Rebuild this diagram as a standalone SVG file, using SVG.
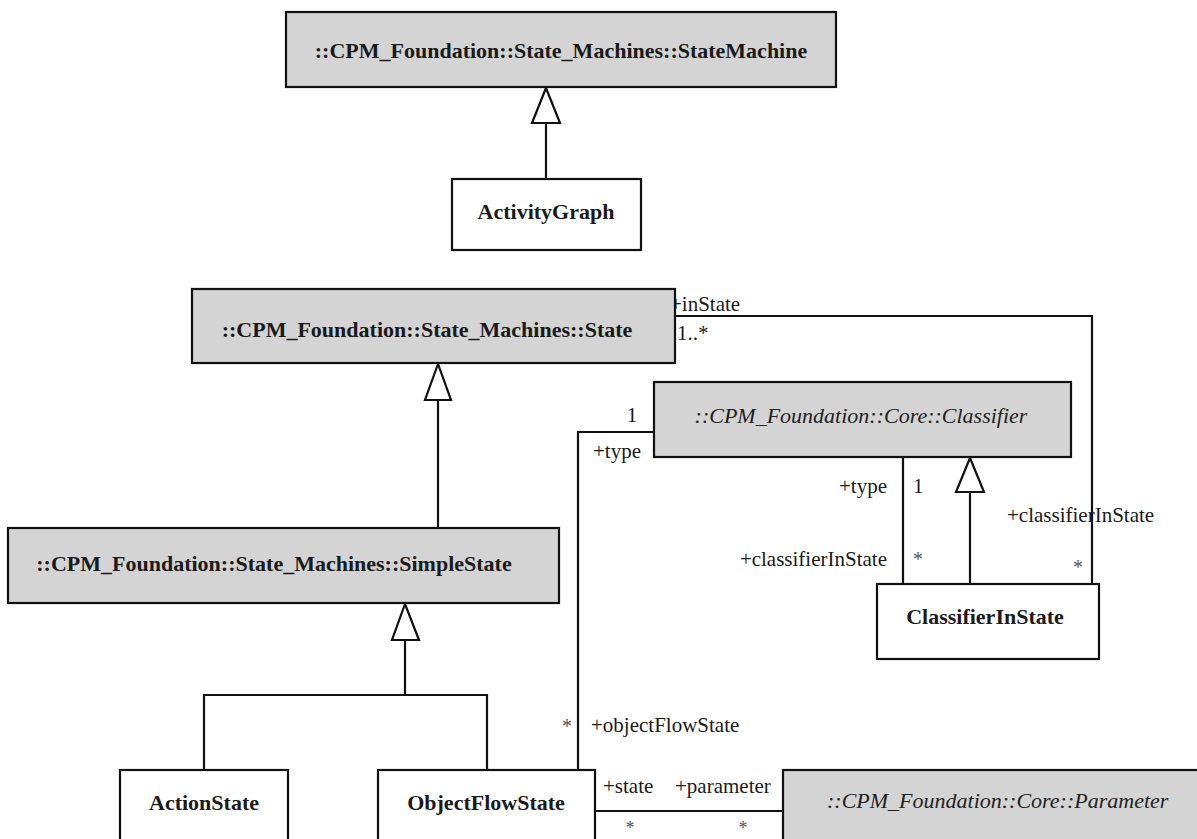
<svg xmlns="http://www.w3.org/2000/svg" width="1197" height="839" viewBox="0 0 1197 839">
<style>
.box{stroke:#111;stroke-width:2.2;}
.abs{fill:#d4d4d4;}
.con{fill:#fff;}
.cn{font-family:"Liberation Serif",serif;font-size:22px;font-weight:bold;fill:#1a1a1a;text-anchor:middle;}
.ci{font-family:"Liberation Serif",serif;font-size:22px;font-style:italic;fill:#222;}
.rl{font-family:"Liberation Serif",serif;font-size:21px;fill:#1a1a1a;}
.st{font-family:"Liberation Serif",serif;font-size:20px;fill:#555;}
.sb{font-family:"Liberation Serif",serif;font-size:18px;fill:#555;}
.ln{fill:none;stroke:#111;stroke-width:2.2;}
.tri{fill:#fff;stroke:#111;stroke-width:2.2;stroke-linejoin:miter;}
</style>
<rect width="1197" height="839" fill="#fff"/>
<g id="connectors">
  <line class="ln" x1="546" y1="123" x2="546" y2="179"/>
  <polygon class="tri" points="546,88 532,123 560,123"/>
  <line class="ln" x1="438" y1="400" x2="438" y2="528"/>
  <polygon class="tri" points="438,364 425,400 451,400"/>
  <polyline class="ln" points="204,770 204,695 487,695 487,770"/>
  <line class="ln" x1="405" y1="640" x2="405" y2="695"/>
  <polygon class="tri" points="405,604 392,640 419,640"/>
  <line class="ln" x1="970" y1="492" x2="970" y2="584"/>
  <polygon class="tri" points="970,458 956,492 984,492"/>
  <line class="ln" x1="903" y1="457" x2="903" y2="584"/>
  <polyline class="ln" points="675,316 1092,316 1092,584"/>
  <polyline class="ln" points="654,432 578,432 578,770"/>
  <line class="ln" x1="595" y1="811" x2="783" y2="811"/>
  <text class="rl" x="670" y="311">+inState</text>
  <text class="rl" x="677" y="340">1..*</text>
  <text class="rl" x="632" y="422" text-anchor="middle">1</text>
  <text class="rl" x="593" y="458">+type</text>
  <text class="rl" x="887" y="493" text-anchor="end">+type</text>
  <text class="rl" x="913" y="493">1</text>
  <text class="rl" x="887" y="566" text-anchor="end">+classifierInState</text>
  <text class="st" x="913" y="566">*</text>
  <text class="rl" x="1007" y="522">+classifierInState</text>
  <text class="st" x="1073" y="574">*</text>
  <text class="st" x="567" y="733" text-anchor="middle">*</text>
  <text class="rl" x="591" y="732">+objectFlowState</text>
  <text class="rl" x="603" y="793">+state</text>
  <text class="rl" x="675" y="793">+parameter</text>
  <text class="sb" x="630" y="834" text-anchor="middle">*</text>
  <text class="sb" x="743" y="834" text-anchor="middle">*</text>
</g>
<g id="StateMachine">
  <rect class="box abs" x="286" y="12" width="550" height="75"/>
  <text class="cn" x="561" y="58">::CPM_Foundation::State_Machines::StateMachine</text>
</g>
<g id="ActivityGraph">
  <rect class="box con" x="452" y="179" width="189" height="71"/>
  <text class="cn" x="546" y="219">ActivityGraph</text>
</g>
<g id="State">
  <rect class="box abs" x="192" y="289" width="483" height="74"/>
  <text class="cn" x="427" y="337">::CPM_Foundation::State_Machines::State</text>
</g>
<g id="Classifier">
  <rect class="box abs" x="654" y="382" width="417" height="75"/>
  <text class="ci" x="861" y="423" text-anchor="middle">::CPM_Foundation::Core::Classifier</text>
</g>
<g id="SimpleState">
  <rect class="box abs" x="8" y="528" width="551" height="75"/>
  <text class="cn" x="274" y="571">::CPM_Foundation::State_Machines::SimpleState</text>
</g>
<g id="ClassifierInState">
  <rect class="box con" x="877" y="584" width="222" height="75"/>
  <text class="cn" x="985" y="624">ClassifierInState</text>
</g>
<g id="ActionState">
  <rect class="box con" x="120" y="770" width="168" height="80"/>
  <text class="cn" x="204" y="810">ActionState</text>
</g>
<g id="ObjectFlowState">
  <rect class="box con" x="378" y="770" width="217" height="80"/>
  <text class="cn" x="486" y="810">ObjectFlowState</text>
</g>
<g id="Parameter">
  <rect class="box abs" x="783" y="770" width="430" height="80"/>
  <text class="ci" x="827" y="808">::CPM_Foundation::Core::Parameter</text>
</g>
</svg>
